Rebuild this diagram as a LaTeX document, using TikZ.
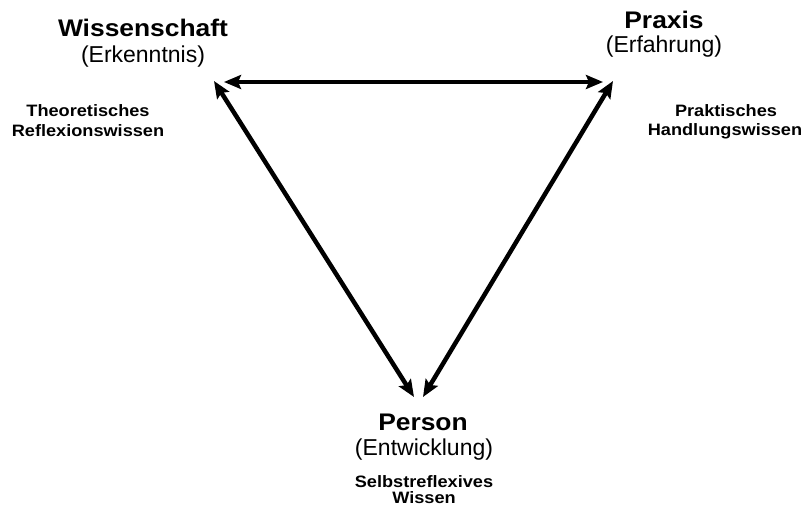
\documentclass[tikz,border=0pt]{standalone}
\usepackage{fontspec}
\setmainfont{Liberation Sans}
\newfontfamily\widesans{Liberation Sans}[FakeStretch=1.1]
\usetikzlibrary{arrows.meta}
\tikzset{
  title/.style={font=\widesans\bfseries\fontsize{24}{26}\selectfont, inner sep=0pt, anchor=base},
  sub/.style={font=\fontsize{23}{26}\selectfont, inner sep=0pt, anchor=base},
  wissen/.style={font=\widesans\bfseries\fontsize{16.5}{20}\selectfont, inner sep=0pt, anchor=base},
  link/.style={line width=4.5pt, {Stealth[length=17pt,width=14pt,inset=3pt]}-{Stealth[length=17pt,width=14pt,inset=3pt]}}
}
\begin{document}
\begin{tikzpicture}[x=1pt, y=-1pt, line join=round]
      \useasboundingbox (0,0) rectangle (804,508);
      % ecken
      \node[title] (wiss) at (143,37) {Wissenschaft};
      \node[sub] (erk) at (143,63) {(Erkenntnis)};
      \node[title] (prax) at (664,29) {Praxis};
      \node[sub] (erf) at (664,53) {(Erfahrung)};
      \node[title] (pers) at (423,430) {Person};
      \node[sub] (entw) at (424,455) {(Entwicklung)};

      % wissensformen
      \node[wissen] (theo) at (88,117) {Theoretisches};
      \node[wissen] (refl) at (88,137) {Reflexionswissen};
      \node[wissen] (prak) at (726,117) {Praktisches};
      \node[wissen] (hand) at (725,136) {Handlungswissen};
      \node[wissen] (selb) at (424,487) {Selbstreflexives};
      \node[wissen] (selw) at (424,503) {Wissen};

      % pfeilenden
      \coordinate (1) at (224,82);
      \coordinate (2) at (603,82);
      \coordinate (3) at (214,81);
      \coordinate (4) at (414,397);
      \coordinate (5) at (613,81);
      \coordinate (6) at (423,397);

      \draw[link] (1)--(2);
      \draw[link] (3)--(4);
      \draw[link] (5)--(6);
    \end{tikzpicture}
\end{document}
